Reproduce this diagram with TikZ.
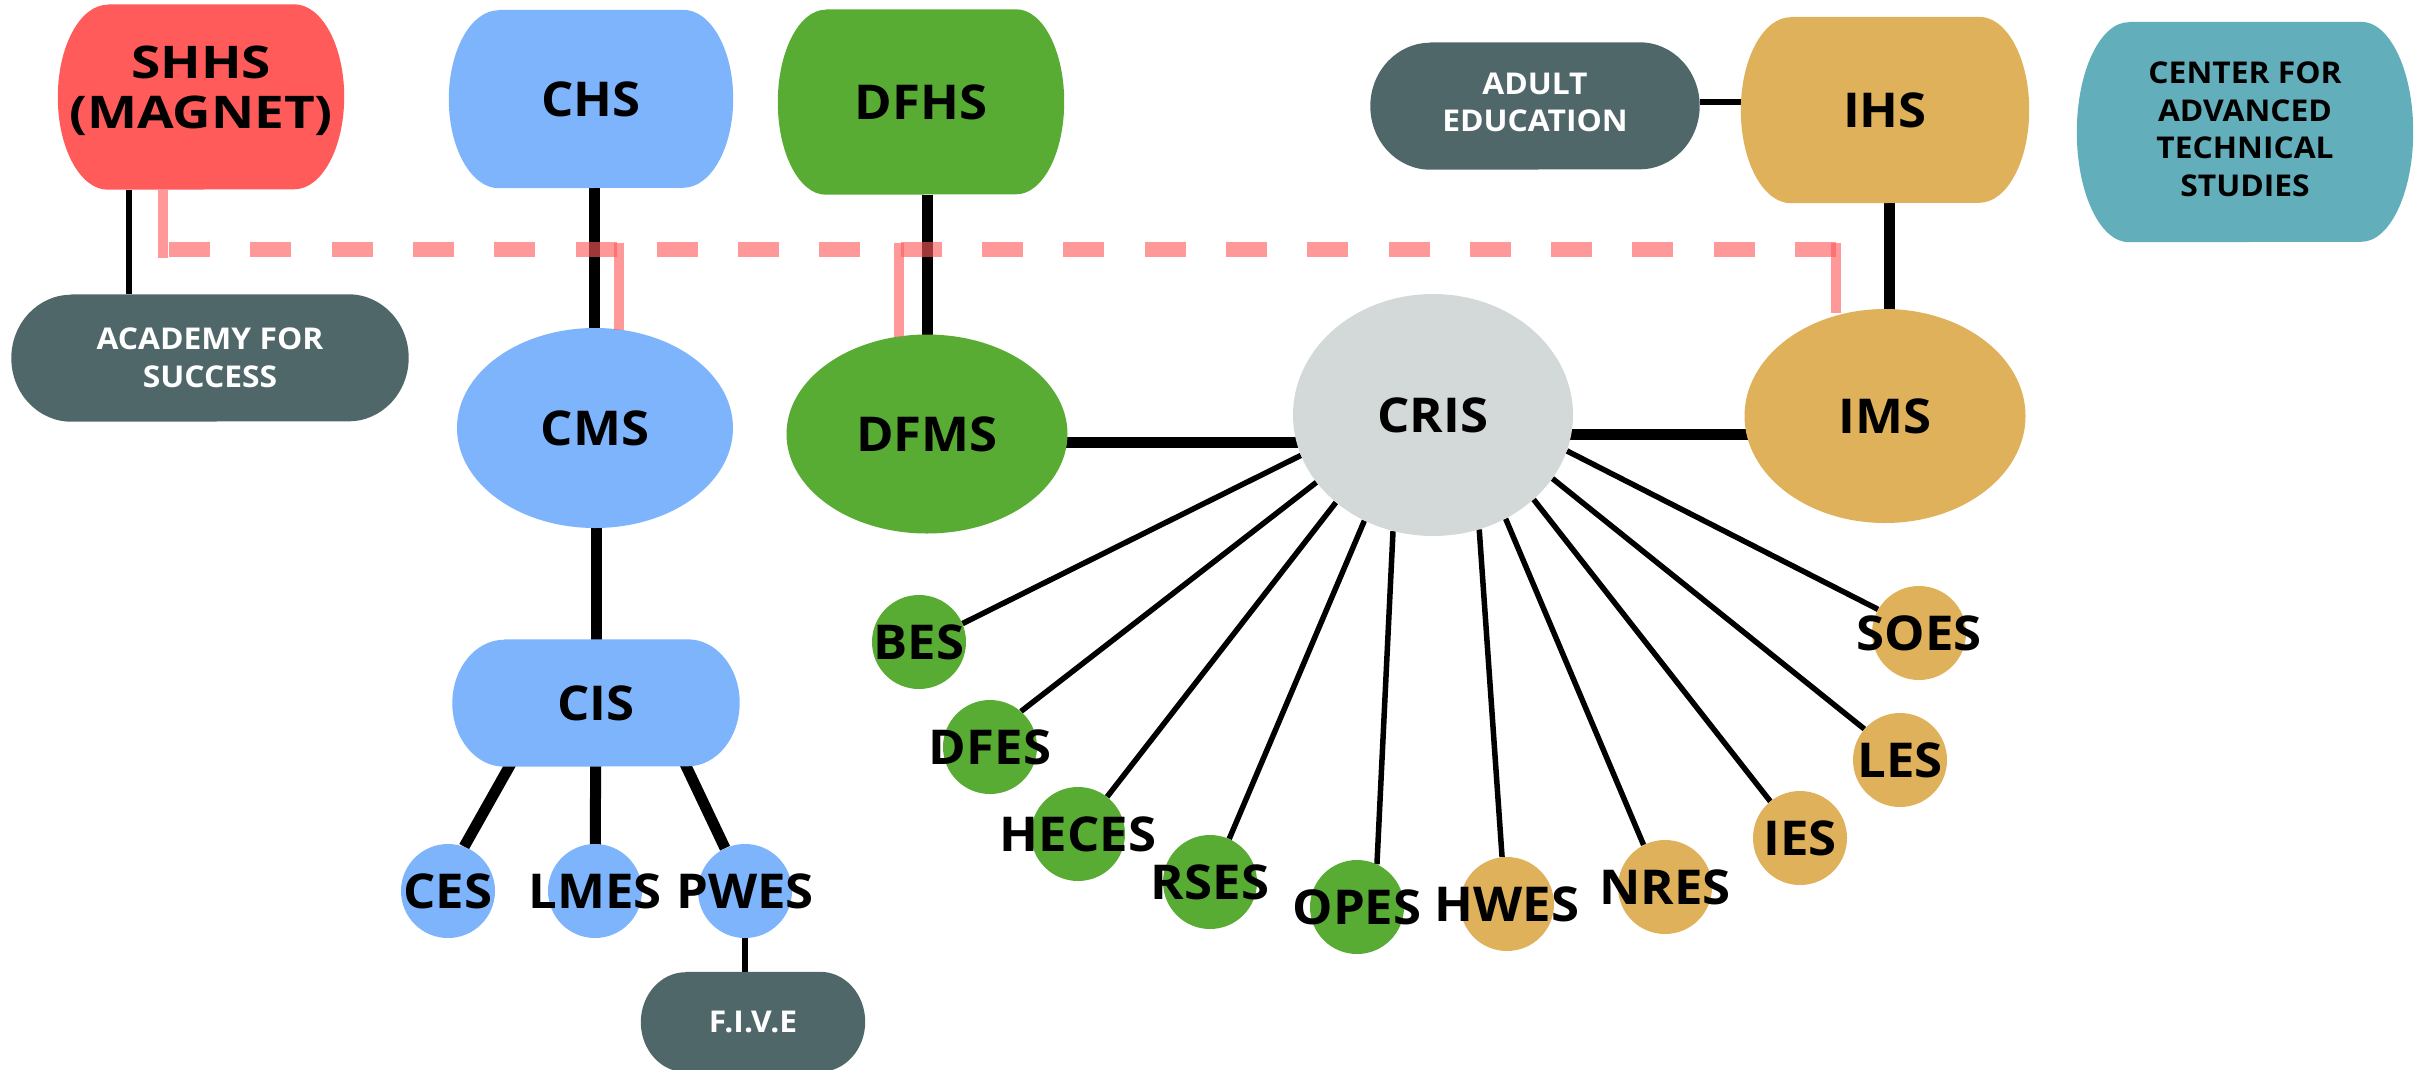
\documentclass[tikz,border=0pt]{standalone}
\usepackage{fontspec}
\setmainfont{Open Sans}[FakeStretch=1.06]
\newfontfamily\widefont{Open Sans}[FakeStretch=1.18]
\usetikzlibrary{calc,shapes.geometric}

\definecolor{shred}{HTML}{FF5B5B}
\definecolor{skyblue}{HTML}{7EB4FC}
\definecolor{leaf}{HTML}{58AC34}
\definecolor{ochre}{HTML}{DEB15A}
\definecolor{slate}{HTML}{50676A}
\definecolor{tealbox}{HTML}{63AEBB}
\definecolor{mist}{HTML}{D3D9D8}

\pgfdeclarelayer{wires}
\pgfdeclarelayer{fills}
\pgfsetlayers{wires,fills,main}

\tikzset{
  big/.style={font=\fontsize{48}{44}\selectfont\bfseries},
  small/.style={font=\fontsize{30}{37.5}\selectfont\bfseries},
  blob/.style={rectangle, inner sep=0pt, align=center},
  oval/.style={ellipse, inner sep=0pt, big},
  dot/.style={circle, inner sep=0pt, minimum size=94pt, big},
  heavywire/.style={line width=11pt},
  lightwire/.style={line width=5.5pt},
  spoke/.style={line width=5.5pt},
  pinkline/.style={draw=shred, draw opacity=0.62, line width=10pt},
  pinkbus/.style={draw=shred, draw opacity=0.62, line width=15pt, dash pattern=on 41pt off 40.3pt},
}

% flat top and bottom, half-ellipse sides, drawn behind a named node
\newcommand\blobfill[4]{% node, side radius, half height, colour
  \begin{pgfonlayer}{fills}
    \fill[#4] ([xshift=#2pt]#1.north west) -- ([xshift=-#2pt]#1.north east)
      arc[start angle=90,end angle=-90,x radius=#2pt,y radius=#3pt]
      -- ([xshift=#2pt]#1.south west)
      arc[start angle=270,end angle=90,x radius=#2pt,y radius=#3pt] -- cycle;
  \end{pgfonlayer}}

\begin{document}
\begin{tikzpicture}[x=1pt,y=-1pt]
\useasboundingbox (0,0) rectangle (2425,1069);
\begin{pgfonlayer}{wires}
  \fill[white] (0,0) rectangle (2425,1069);
\end{pgfonlayer}

% ---- top row ----
\node[blob, minimum width=286pt, minimum height=185pt, text depth=19pt,
      font=\widefont\fontsize{45}{50}\selectfont\bfseries] (shhs) at (201,97) {SHHS\\(MAGNET)};
\blobfill{shhs}{50}{92.5}{shred}
\node[blob, minimum width=284pt, minimum height=178pt, big] (chs) at (591,99) {CHS};
\blobfill{chs}{50}{89}{skyblue}
\node[blob, minimum width=286pt, minimum height=185pt, big] (dfhs) at (921,102) {DFHS};
\blobfill{dfhs}{48}{92.5}{leaf}
\node[blob, minimum width=329pt, minimum height=127pt, small, text=white, text depth=8pt] (adult) at (1535,106) {ADULT\\EDUCATION};
\blobfill{adult}{60}{63.5}{slate}
\node[blob, minimum width=288pt, minimum height=186pt, big] (ihs) at (1885,110) {IHS};
\blobfill{ihs}{50}{93}{ochre}
\node[blob, minimum width=336pt, minimum height=220pt, small, text depth=6pt] (cats) at (2245,132) {CENTER FOR\\ADVANCED\\TECHNICAL\\STUDIES};
\blobfill{cats}{52}{110}{tealbox}

% ---- second row ----
\node[blob, minimum width=397pt, minimum height=127pt, small, text=white] (acad) at (210,358) {ACADEMY FOR\\SUCCESS};
\blobfill{acad}{60}{63.5}{slate}
\node[oval, fill=skyblue, minimum width=276pt, minimum height=200pt] (cms) at (595,428) {CMS};
\node[oval, fill=leaf, minimum width=281pt, minimum height=199pt] (dfms) at (927,434) {DFMS};
\node[oval, fill=mist, minimum width=280pt, minimum height=242pt] (cris) at (1433,415) {CRIS};
\node[oval, fill=ochre, minimum width=281pt, minimum height=214pt] (ims) at (1885,416) {IMS};

% ---- intermediate branch ----
\node[blob, minimum width=287pt, minimum height=127pt, big] (cis) at (596,703) {CIS};
\blobfill{cis}{52}{63.5}{skyblue}
\node[dot, fill=skyblue] (ces) at (448,891) {\makebox[0pt]{CES}};
\node[dot, fill=skyblue] (lmes) at (595,891) {\makebox[0pt]{LMES}};
\node[dot, fill=skyblue] (pwes) at (745,891) {\makebox[0pt]{PWES}};
\node[blob, minimum width=224pt, minimum height=100pt, small, text=white] (five) at (753,1022) {F.I.V.E};
\blobfill{five}{45}{50}{slate}

% ---- elementary schools round CRIS ----
\node[dot, fill=leaf] (bes) at (919,642) {\makebox[0pt]{BES}};
\node[dot, fill=leaf] (dfes) at (990,747) {\makebox[0pt]{DFES}};
\node[dot, fill=leaf] (heces) at (1078,834) {\makebox[0pt]{HECES}};
\node[dot, fill=leaf] (rses) at (1210,882) {\makebox[0pt]{RSES}};
\node[dot, fill=leaf] (opes) at (1357,907) {\makebox[0pt]{OPES}};
\node[dot, fill=ochre] (hwes) at (1507,904) {\makebox[0pt]{HWES}};
\node[dot, fill=ochre] (nres) at (1665,887) {\makebox[0pt]{NRES}};
\node[dot, fill=ochre] (ies) at (1800,838) {\makebox[0pt]{IES}};
\node[dot, fill=ochre] (les) at (1900,760) {\makebox[0pt]{LES}};
\node[dot, fill=ochre] (soes) at (1919,633) {\makebox[0pt]{SOES}};

% ---- black connectors ----
\begin{pgfonlayer}{wires}
  \draw[lightwire] ($(shhs.south)+(-72,0)$) -- ($(acad.north)+(-81,0)$);
  \draw[heavywire] ($(chs.south)+(3,0)$) -- ($(cms.center)+(-1,0)$);
  \draw[heavywire] ($(dfhs.south)+(6,0)$) -- (dfms.center);
  \draw[lightwire] ($(adult.east)+(0,-4)$) -- ($(ihs.west)+(0,-8)$);
  \draw[heavywire] ($(ihs.south)+(4,0)$) -- ($(ims.center)+(4,0)$);
  \draw[heavywire] ($(dfms.center)+(0,8)$) -- ($(cris.center)+(0,27)$);
  \draw[heavywire] ($(cris.center)+(0,19)$) -- ($(ims.center)+(0,18)$);
  \draw[heavywire] ($(cms.center)+(1,0)$) -- (cis.center);
  \draw[heavywire] ($(cis.south)+(-84,-5)$) -- (ces.70);
  \draw[heavywire] (cis.center) -- (lmes.center);
  \draw[heavywire] ($(cis.south)+(88,-5)$) -- (pwes.115);
  \draw[lightwire] (pwes.center) -- (pwes.center |- five.center);
  \foreach \school/\from/\to in {bes/197/23, dfes/210/49, heces/222/52, rses/237/66,
      opes/251/65, hwes/292/96, nres/305/117, ies/320/129, les/332/139, soes/345/150}
    \draw[spoke] (cris.\from) -- (\school.\to);
\end{pgfonlayer}

% ---- dashed link between the magnet school and the middle schools ----
\coordinate (busw) at ($(shhs.south)+(-32,60)$);
\draw[pinkline] ($(shhs.south)+(-38,0)$) -- ++(0,68);
\draw[pinkbus] (busw) -- ($(busw -| ims.north)+(-43,0)$);
\draw[pinkline] ($(busw -| cms.north)+(24,-7)$) -- ($(cms.north)+(24,2)$);
\draw[pinkline] ($(busw -| dfms.north)+(-28,-7)$) -- ($(dfms.north)+(-28,3)$);
\draw[pinkline] ($(busw -| ims.north)+(-49,-7)$) -- ($(ims.north)+(-49,4)$);
\end{tikzpicture}
\end{document}
